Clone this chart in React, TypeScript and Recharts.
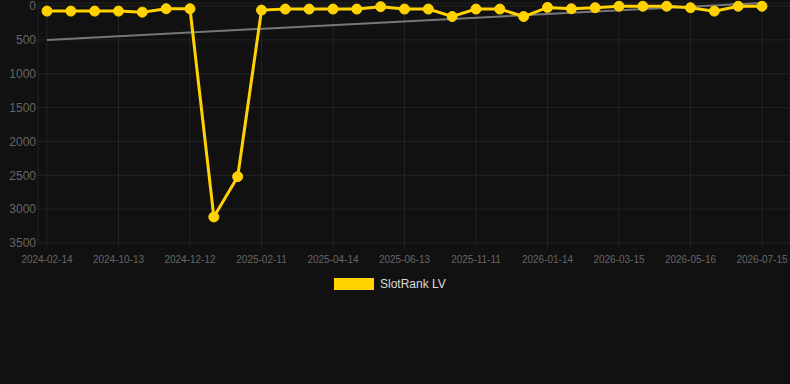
import React from 'react';
import { LineChart, Line, XAxis, YAxis, CartesianGrid, Legend } from 'recharts';

const dates = [
    '2024-02-14', '2024-04-14', '2024-07-13', '2024-10-13', '2024-11-12', '2024-11-27',
    '2024-12-12', '2024-12-27', '2025-01-17', '2025-02-11', '2025-03-04', '2025-03-24',
    '2025-04-14', '2025-05-04', '2025-05-24', '2025-06-13', '2025-08-12', '2025-10-10',
    '2025-11-11', '2025-12-02', '2025-12-22', '2026-01-14', '2026-02-03', '2026-02-23',
    '2026-03-15', '2026-04-05', '2026-04-25', '2026-05-16', '2026-06-05', '2026-06-25',
    '2026-07-15',
];

const rankValues = [
    75, 75, 75, 75, 90, 40, 40, 3115, 2520, 60, 45, 45, 45, 45, 10, 45,
    45, 155, 45, 45, 155, 20, 40, 25, 3, 3, 3, 25, 75, 3, 3,
];

// trend line: only the two end points, the rest is bridged
const trendStart = 500;
const trendEnd = -45;

const yTicks = [0, 500, 1000, 1500, 2000, 2500, 3000, 3500];

const data = dates.map((date, i) => ({
    date,
    rank: rankValues[i],
    trend: i === 0 ? trendStart : i === dates.length - 1 ? trendEnd : null,
}));

const gridColor = '#232323';
const tickColor = '#666';

const LegendContent = () => (
    <div style={{ position: 'relative', height: 23, fontFamily: 'Arial, "Liberation Sans", sans-serif' }}>
        <div style={{ position: 'absolute', left: 334, top: 5, width: 40, height: 12, background: '#FFD200' }} />
        <div style={{ position: 'absolute', left: 380, top: 3, fontSize: 12, lineHeight: '16px', color: '#ddd' }}>SlotRank LV</div>
    </div>
);

const App: React.FC = () => {
    return (
        <div style={{ position: 'absolute', left: 0, top: 0, width: 790, height: 384, background: '#111111' }}>
            <LineChart
                width={790}
                height={384}
                data={data}
                margin={{ top: 3, right: 0, left: 0, bottom: 88 }}
                style={{ fontFamily: 'Arial, "Liberation Sans", sans-serif' }}
            >
                <CartesianGrid stroke={gridColor} strokeWidth={1} />
                <XAxis
                    dataKey="date"
                    interval={2}
                    height={30}
                    padding={{ left: 9, right: 28 }}
                    axisLine={false}
                    tickLine={{ stroke: gridColor }}
                    tickSize={4}
                    tickMargin={9}
                    tick={{ fill: tickColor, fontSize: 10 }}
                />
                <YAxis
                    reversed
                    domain={[-45, 3500]}
                    ticks={yTicks}
                    interval={0}
                    width={38}
                    axisLine={false}
                    tickLine={false}
                    tickSize={0}
                    tickMargin={2}
                    tick={{ fill: tickColor, fontSize: 12 }}
                />
                <Legend verticalAlign="bottom" height={23} content={<LegendContent />} />
                <Line
                    dataKey="trend"
                    connectNulls
                    stroke="#777"
                    strokeWidth={2}
                    dot={false}
                    legendType="none"
                    isAnimationActive={false}
                />
                <Line
                    dataKey="rank"
                    name="SlotRank LV"
                    stroke="#FFD200"
                    strokeWidth={3}
                    dot={{ r: 5, fill: '#FFD200', stroke: '#FFD200', strokeWidth: 1 }}
                    isAnimationActive={false}
                />
            </LineChart>
        </div>
    );
};

export default App;
